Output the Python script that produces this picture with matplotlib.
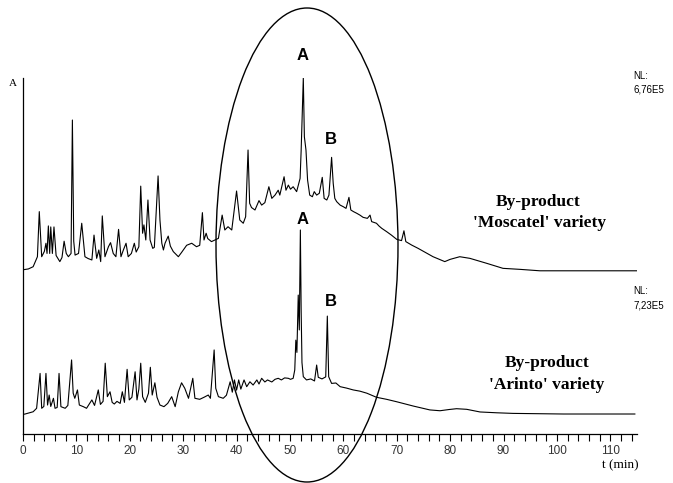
import numpy as np
import matplotlib
matplotlib.use("Agg")
import matplotlib.pyplot as plt
from matplotlib.patches import Ellipse

# retention times (min) and relative abundance (%)
moscatel_t = [0, 1.0, 1.9, 2.7, 3.05, 3.5, 4.0, 4.3, 4.5, 4.75, 5.0, 5.2, 5.5, 5.8, 6.2,
              6.9, 7.3, 7.7, 8.1, 8.5, 9.0, 9.25, 9.5, 9.75, 10.4, 11.0, 11.6, 12.2, 12.9,
              13.3, 13.8, 14.2, 14.55, 14.85, 15.35, 16.0, 16.4, 16.9, 17.4, 17.9, 18.35,
              18.8, 19.3, 19.7, 20.3, 20.85, 21.2, 21.7, 22.05, 22.4, 22.65, 23.0, 23.4,
              23.8, 24.3, 24.6, 25.3, 25.65, 26.0, 26.3, 26.6, 27.2, 27.6, 28.15, 29.1,
              29.7, 30.65, 31.6, 32.5, 33.1, 33.6, 33.9, 34.3, 34.6, 35.3, 35.95, 36.6,
              37.3, 37.8, 38.4, 39.1, 40.0, 40.6, 41.25, 41.7, 42.15, 42.45, 42.8, 43.45,
              44.2, 44.7, 45.3, 46.05, 46.6, 47.2, 47.8, 48.1, 48.9, 49.25, 49.7, 50.1,
              50.6, 51.25, 51.9, 52.1, 52.5, 52.7, 53.0, 53.3, 53.7, 54.2, 54.55, 55.0,
              55.5, 56.05, 56.4, 56.9, 57.3,
              57.8, 58.1, 58.4, 58.75, 59.4, 60.0, 60.5, 61.05, 61.4, 61.9, 62.5, 63.1,
              63.7, 64.5, 65.0, 65.3, 66.2, 66.7, 67.2, 68.1, 69.0, 70.0, 70.9, 71.35,
              71.7, 72.8, 74.0, 76.8, 79.0, 80.0, 81.8, 83.7, 86.8, 89.9, 93.1, 96.8,
              101.9, 109.0, 114.9]
moscatel_v = [6.0, 6.4, 7.5, 12.4, 34.5, 12.4, 15, 19, 14, 27.5, 14, 27, 14, 27, 13,
              10, 12, 20, 14, 12.4, 14, 79.4, 20, 13.2, 14, 28.8, 12.4, 11.5, 10.8,
              23, 11.6, 15.7, 10, 32.4, 12.4, 17.3, 19.3, 14, 12.4, 25.8, 12.4,
              15.7, 19, 12.4, 14, 19, 14.7, 17.3, 47, 23.9, 28, 20.6, 40.2,
              20.6, 16.5, 17, 52, 30.4, 19, 15.7, 19, 22.5, 17.6, 14.9, 12.4,
              14.5, 18, 19, 17.3, 18, 34, 20.6, 23.9, 21.3, 19.8, 20.6, 21.4,
              32.8, 25.5, 27.1, 25.5, 44.6, 30.4, 28.8, 32, 64.7, 38.6, 36.5, 35.3,
              39.9, 37.7, 38.9, 46.7, 41, 42.6, 45, 42.6, 51.6, 45, 47.5, 45.5,
              46.7, 44.3, 50.8, 64.7, 100, 71.2, 64.7, 50, 42.6, 41.8, 44.3, 42.6,
              43.5, 51.3, 41, 40.2, 42.6,
              61.1, 48.4, 41, 39.4, 37.7, 36.9, 36.1, 41.5, 35.3, 34.5, 33.7, 32.8,
              31.7, 31.2, 32.8, 29.6, 28.8, 27.4, 26.3, 24.7, 23, 20.9, 20.3, 25.1,
              19.8, 18.1, 16.5, 12.4, 10, 11.1, 12.4, 11.6, 9.2, 6.7, 6.2, 5.5,
              5.5, 5.5, 5.5]

arinto_t = [0, 0.4, 1.9, 2.55, 3.2, 3.5, 3.9, 4.3, 4.6, 4.9, 5.2, 5.7, 6.0, 6.4, 6.75,
            7.1, 7.9, 8.4, 9.1, 9.4, 9.7, 10.2, 10.55, 11.3, 11.9, 12.9, 13.4, 14.1,
            14.5, 15.0, 15.4, 15.8, 16.3, 16.7, 17.1, 17.6, 18.2, 18.6, 19.0, 19.5,
            19.9, 20.4, 21.0, 21.35, 21.7, 22.05, 22.4, 22.9, 23.5, 23.85, 24.2, 24.7,
            25.1, 25.65, 26.4, 27.1, 27.85, 28.5, 29.1, 29.7, 30.3, 31.0, 31.8, 32.2,
            33.1, 33.9, 34.7, 35.1, 35.8, 36.1, 36.6, 37.5, 38.1,
            38.8, 39.2, 39.6, 40.0, 40.4, 40.8, 41.4, 41.9, 42.5, 43.1, 43.8, 44.2,
            44.7, 45.3, 45.8, 46.6, 47.2, 47.8, 48.4, 49.0, 49.7, 50.1, 50.6, 50.9,
            51.1, 51.3, 51.55, 51.75, 51.95, 52.1,
            52.25, 52.5, 53.1, 53.9, 54.6, 55.0, 55.3, 56.0, 56.7, 57.0, 57.25, 57.8,
            58.6, 59.4, 60.6, 61.85, 63.1, 64.4, 66.2, 68.1, 70.0, 73.1, 76.2, 78.1,
            79.8, 81.2, 83.1, 85.6, 88.7, 91.8, 101.2, 114.6]
arinto_v = [9.6, 9.8, 10.9, 12.6, 29.7, 12.6, 13.5, 29.7, 14.2, 19.1, 13.5, 17.5, 12.6, 13, 29.7,
            13.4, 12.6, 14, 36.3, 20, 17.5, 21.6, 14.2, 13.4, 12.6, 16.7, 14, 21.6,
            14.5, 16, 34.7, 18.3, 20.7, 15.5, 14.7, 16, 15, 20.7, 15.5, 31.7,
            16.7, 18, 30.5, 16.7, 22, 34.7, 18.3, 15.5, 20, 32.7, 19.1, 25.1,
            18, 14.2, 13.4, 15, 18.3, 13.4, 20.7, 25.1, 22.4, 17.5, 27.3, 17.5,
            17, 18, 19.1, 17.5, 41.2, 22.4, 18.3, 17.5, 19,
            25.6, 20.5, 26.5, 21.5, 26.5, 22, 26.5, 23.2, 25.6, 24, 26.5, 24.5,
            27.3, 25.5, 26.5, 25.5, 26.8, 27.3, 26.5, 27.5, 27.3, 26.8, 27.3, 31.4,
            46, 40, 68.1, 51, 100, 60,
            35, 28.1, 26.5, 27, 26, 33.8, 27.8, 27, 28, 57.8, 28.1, 24.8,
            25, 23.2, 22.5, 21.6, 21, 20, 18, 17, 15.8, 13.7, 11.8, 11.4,
            12, 12.4, 12.1, 10.8, 10.4, 10.1, 9.8, 9.8]

x_major = list(range(0, 111, 10))
x_minor = list(range(0, 115, 2))

W, H = 673, 483


def fx(x):
    return x / W


def fy(y):
    return 1 - y / H


fig = plt.figure(figsize=(6.73, 4.83), dpi=100)
ax = fig.add_axes([fx(23), fy(434), (637 - 23) / W, (434 - 78) / H])

# two stacked 0-100 % panels sharing one axis
offset = 74.5
ax.plot(moscatel_t, np.array(moscatel_v) + offset, color='black', lw=0.8)
ax.plot(arinto_t, np.array(arinto_v), color='black', lw=0.8)

ax.set_xlim(0, 115)
ax.set_ylim(0, 100 + offset)
for s in ['top', 'right']:
    ax.spines[s].set_visible(False)
ax.spines['left'].set_linewidth(0.9)
ax.spines['bottom'].set_linewidth(0.9)
ax.set_yticks([])
ax.set_xticks(x_major)
ax.set_xticklabels([str(v) for v in x_major])
ax.set_xticks(x_minor, minor=True)
ax.tick_params(axis='x', which='both', direction='out', length=5, width=0.8,
               labelsize=8.5, labelcolor='#333333', pad=3)
for lbl in ax.get_xticklabels():
    lbl.set_family('Liberation Sans')

sans = 'Liberation Sans'
serif = 'Liberation Serif'

fig.text(fx(12.5), fy(83), 'A', family=serif, fontsize=8, ha='center', va='center')
fig.text(fx(620), fy(465), 't (min)', family=serif, fontsize=9.5, ha='center', va='center')

fig.text(fx(633), fy(76), 'NL:', family=sans, fontsize=7, ha='left', va='center')
fig.text(fx(633), fy(89), '6,76E5', family=sans, fontsize=7, ha='left', va='center')
fig.text(fx(633), fy(291), 'NL:', family=sans, fontsize=7, ha='left', va='center')
fig.text(fx(633), fy(305), '7,23E5', family=sans, fontsize=7, ha='left', va='center')

for (x, y, s) in [(303, 56, 'A'), (331, 139, 'B'), (303, 219, 'A'), (331, 301, 'B')]:
    fig.text(fx(x), fy(y), s, family=sans, fontsize=12, fontweight='bold',
             ha='center', va='center')

fig.text(fx(538), fy(202), 'By-product', family=serif, fontsize=12.5,
         fontweight='bold', ha='center', va='center')
fig.text(fx(540), fy(223), "'Moscatel' variety", family=serif, fontsize=12.5,
         fontweight='bold', ha='center', va='center')
fig.text(fx(547), fy(363), 'By-product', family=serif, fontsize=12.5,
         fontweight='bold', ha='center', va='center')
fig.text(fx(547), fy(385), "'Arinto' variety", family=serif, fontsize=12.5,
         fontweight='bold', ha='center', va='center')

# ellipse highlighting the region of peaks A and B
ell = Ellipse((fx(307), fy(245)), width=182 / W, height=474 / H,
              transform=fig.transFigure, fill=False, lw=1.0, ec='black')
fig.patches.append(ell)

fig.savefig('out.png', dpi=100)
